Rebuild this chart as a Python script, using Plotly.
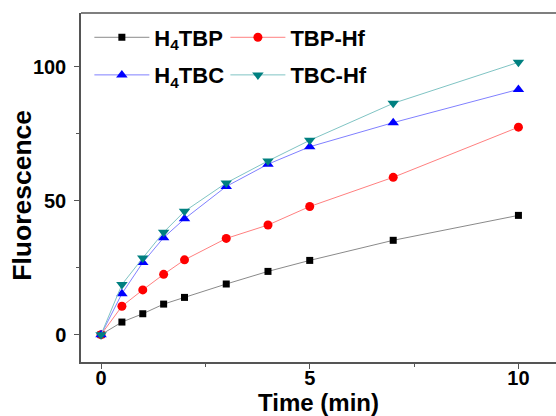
import plotly.graph_objects as go

time_min = [0, 0.5, 1, 1.5, 2, 3, 4, 5, 7, 10]
h4tbp = [0, 4.7, 7.8, 11.4, 13.9, 18.9, 23.6, 27.7, 35.2, 44.5]
tbp_hf = [0, 10.6, 16.7, 22.5, 27.9, 35.9, 40.9, 47.8, 58.7, 77.4]
h4tbc = [0, 15.3, 26.9, 36.2, 43.2, 55.3, 63.6, 70.1, 79.1, 91.5]
tbc_hf = [0, 18.7, 28.6, 38.2, 46.0, 56.6, 64.8, 72.5, 86.3, 101.6]

series_names = ["H<sub>4</sub>TBP", "TBP-Hf", "H<sub>4</sub>TBC", "TBC-Hf"]
x_ticks = [0, 5, 10]
y_ticks = [0, 50, 100]
x_minor = [2.5, 7.5]
y_minor = [25, 75]

FONT = "Liberation Sans, Arial, sans-serif"

styles = [
    dict(data=h4tbp, color="#000000", line="#8a8a8a", symbol="square", size=7, legend="legend"),
    dict(data=tbp_hf, color="#ff0000", line="#ff8080", symbol="circle", size=9, legend="legend2"),
    dict(data=h4tbc, color="#0000ff", line="#8080ff", symbol="triangle-up", size=10, legend="legend"),
    dict(data=tbc_hf, color="#008080", line="#80c4c4", symbol="triangle-down", size=10, legend="legend2"),
]

fig = go.Figure()
for name, st in zip(series_names, styles):
    fig.add_trace(go.Scatter(
        x=time_min, y=st["data"], name=name, mode="lines+markers",
        line=dict(color=st["line"], width=1),
        marker=dict(color=st["color"], symbol=st["symbol"], size=st["size"], line=dict(width=0)),
        legend=st["legend"], legendgroup=name,
    ))

axis_common = dict(
    showline=True, linecolor="#555555", linewidth=1.5,
    ticks="outside", ticklen=5, tickwidth=1.2, tickcolor="#555555",
    showgrid=False, zeroline=False, automargin=False,
    tickfont=dict(family=FONT, size=20, color="#000000", weight="bold"),
)

fig.update_layout(
    width=556, height=416,
    margin=dict(l=81, r=0, t=13, b=54),
    paper_bgcolor="white", plot_bgcolor="white",
    font=dict(family=FONT, color="#000000"),
    xaxis=dict(range=[-0.48, 10.9], tickvals=x_ticks, mirror=False, ticklabelstandoff=-8,
               minor=dict(tickvals=x_minor, ticks="outside", ticklen=3, tickwidth=1.2,
                          tickcolor="#555555", showgrid=False),
               title=dict(text="Time (min)", font=dict(size=24, weight="bold"), standoff=2),
               **axis_common),
    yaxis=dict(range=[-10.2, 120], tickvals=y_ticks, ticklabelstandoff=4,
               minor=dict(tickvals=y_minor, ticks="outside", ticklen=3, tickwidth=1.2,
                          tickcolor="#555555", showgrid=False),
               **axis_common),
    legend=dict(x=0.0176, y=0.99, xanchor="left", yanchor="top", bgcolor="rgba(0,0,0,0)",
                font=dict(size=22, weight="bold"), itemwidth=55, tracegroupgap=6),
    legend2=dict(x=0.304, y=0.99, xanchor="left", yanchor="top", bgcolor="rgba(0,0,0,0)",
                 font=dict(size=22, weight="bold"), itemwidth=55, tracegroupgap=6),
    annotations=[dict(text="<b>Fluorescence</b>", xref="paper", yref="paper",
                      x=-0.123, y=0.478, xanchor="center", yanchor="middle",
                      textangle=-90, showarrow=False,
                      font=dict(family=FONT, size=26.5, color="#000000"))],
)
# top frame line
fig.add_shape(type="line", xref="paper", yref="paper", x0=0, x1=1, y0=1, y1=1,
              line=dict(color="#555555", width=1.5))

fig.write_html("out.html", config={"displayModeBar": False},
               post_script="document.body.style.margin='0';document.body.style.overflow='hidden';"
                           "document.documentElement.style.overflow='hidden';")
